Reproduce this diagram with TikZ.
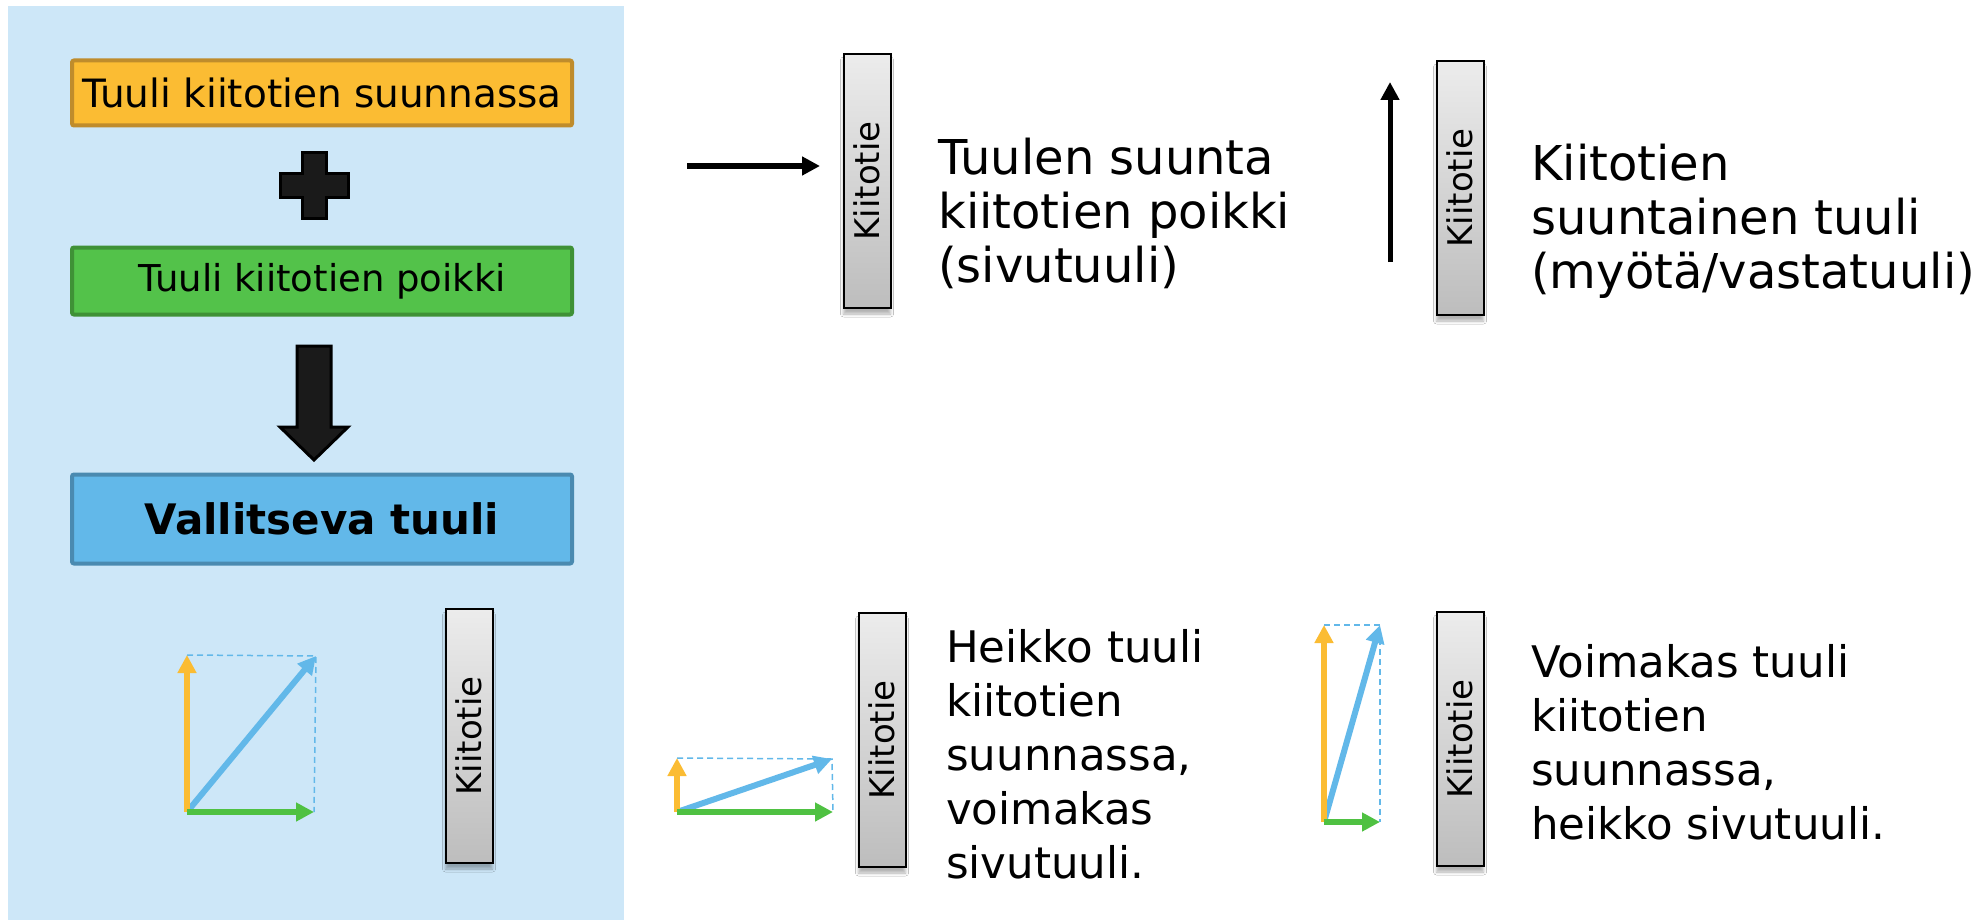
\documentclass[tikz,border=0pt]{standalone}
\usepackage{fontspec}
\setmainfont{DejaVu Sans}
\usetikzlibrary{arrows.meta,shadows.blur}

\definecolor{panelblue}{HTML}{CDE7F8}
\definecolor{orangefill}{HTML}{FBBC33}
\definecolor{orangeedge}{HTML}{BF8C2C}
\definecolor{greenfill}{HTML}{53C24A}
\definecolor{greenedge}{HTML}{3F9136}
\definecolor{bluefill}{HTML}{62B8E9}
\definecolor{blueedge}{HTML}{4A8AB0}
\definecolor{vecorange}{HTML}{FBBC33}
\definecolor{vecgreen}{HTML}{4FC142}
\definecolor{vecblue}{HTML}{62B8E9}
\definecolor{rwtop}{HTML}{ECECEC}
\definecolor{rwbottom}{HTML}{BDBDBD}
\definecolor{plusblack}{HTML}{1A1A1A}

\begin{document}
\begin{tikzpicture}[x=1pt,y=-1pt,
    box/.style={rectangle,draw,line width=4pt,rounded corners=2pt,minimum width=500pt,inner sep=0pt},
    runway/.style={rectangle,draw=black,line width=2pt,minimum width=47pt,minimum height=254pt,
        top color=rwtop,bottom color=rwbottom,
        blur shadow={shadow xshift=0pt,shadow yshift=-6pt,shadow blur radius=3pt,shadow opacity=30}},
    rwlabel/.style={rotate=90,font=\fontsize{34}{40}\selectfont,inner sep=0pt},
    wind/.style={line width=6pt,-{Triangle[length=18pt,width=18pt]}},
    vec/.style={line width=6pt,-{Triangle[length=18pt,width=18pt]}},
    guide/.style={draw=vecblue,line width=1.5pt,dash pattern=on 6pt off 4pt},
    caption/.style={anchor=north west,align=left,inner sep=0pt}]
    \useasboundingbox (0,0) rectangle (1986,920);
    \fill [white] (0,0) rectangle (1986,920);
    \fill [panelblue] (8,6) rectangle (624,920);

    % left panel: the two components and the result
    \node (along) [box,draw=orangeedge,fill=orangefill,minimum height=65pt,font=\fontsize{39}{44}\selectfont] at (322,93) {Tuuli kiitotien suunnassa};
    \node (across) [box,draw=greenedge,fill=greenfill,minimum height=67pt,font=\fontsize{37}{42}\selectfont] at (322,281) {Tuuli kiitotien poikki};
    \node (result) [box,draw=blueedge,fill=bluefill,minimum height=89pt,font=\bfseries\fontsize{42}{48}\selectfont] at (322,519) {Vallitseva tuuli};
    \filldraw [fill=plusblack,draw=black,line width=3pt] (302,153) -- (326,153) -- (326,174) -- (348,174) -- (348,198) -- (326,198) -- (326,219) -- (302,219) -- (302,198) -- (280,198) -- (280,174) -- (302,174) -- cycle;
    \filldraw [fill=plusblack,draw=black,line width=3pt] (297,346) -- (331,346) -- (331,427) -- (348,427) -- (314,460) -- (280,427) -- (297,427) -- cycle;

    % runways
    \node (rw1) [runway] at (867,181) {};
    \node (rw1text) [rwlabel] at (rw1) {Kiitotie};
    \node (rw2) [runway] at (1460,188) {};
    \node (rw2text) [rwlabel] at (rw2) {Kiitotie};
    \node (rw3) [runway] at (469,736) {};
    \node (rw3text) [rwlabel] at (rw3) {Kiitotie};
    \node (rw4) [runway] at (882,740) {};
    \node (rw4text) [rwlabel] at (rw4) {Kiitotie};
    \node (rw5) [runway] at (1460,739) {};
    \node (rw5text) [rwlabel] at (rw5) {Kiitotie};

    % wind directions
    \coordinate (cross0) at (687,166);
    \coordinate (cross1) at (820,166);
    \draw [wind] (cross0) -- (cross1);
    \coordinate (head0) at (1390,262);
    \coordinate (head1) at (1390,82);
    \draw [wind,line width=5pt] (head0) -- (head1);

    % captions
    \node (cap1) [caption,font=\fontsize{48}{54}\selectfont] at (938,138) {Tuulen suunta\\kiitotien poikki\\(sivutuuli)};
    \node (cap2) [caption,font=\fontsize{48}{54}\selectfont] at (1531,144) {Kiitotien\\suuntainen tuuli\\(myötä/vastatuuli)};
    \node (cap3) [caption,font=\fontsize{43.5}{54}\selectfont] at (946,629) {Heikko tuuli\\kiitotien\\suunnassa,\\voimakas\\sivutuuli.};
    \node (cap4) [caption,font=\fontsize{43.5}{54}\selectfont] at (1531,644) {Voimakas tuuli\\kiitotien\\suunnassa,\\heikko sivutuuli.};

    % vector sums
    \coordinate (p0) at (187,812);
    \coordinate (pa) at (187,655);
    \coordinate (pc) at (314,812);
    \coordinate (pr) at (316,656);
    \draw [guide] (pa) -- (pr) -- (pc);
    \draw [vec,vecblue] (p0) -- (pr);
    \draw [vec,vecorange] (p0) -- (pa);
    \draw [vec,vecgreen] (p0) -- (pc);

    \coordinate (q0) at (677,812);
    \coordinate (qa) at (677,758);
    \coordinate (qc) at (833,812);
    \coordinate (qr) at (832,759);
    \draw [guide] (qa) -- (qr) -- (qc);
    \draw [vec,vecblue] (q0) -- (qr);
    \draw [vec,vecorange] (q0) -- (qa);
    \draw [vec,vecgreen] (q0) -- (qc);

    \coordinate (s0) at (1324,822);
    \coordinate (sa) at (1324,625);
    \coordinate (sc) at (1380,822);
    \coordinate (sr) at (1380,625);
    \draw [guide] (sa) -- (sr) -- (sc);
    \draw [vec,vecblue] (s0) -- (sr);
    \draw [vec,vecorange] (s0) -- (sa);
    \draw [vec,vecgreen] (s0) -- (sc);
\end{tikzpicture}
\end{document}
